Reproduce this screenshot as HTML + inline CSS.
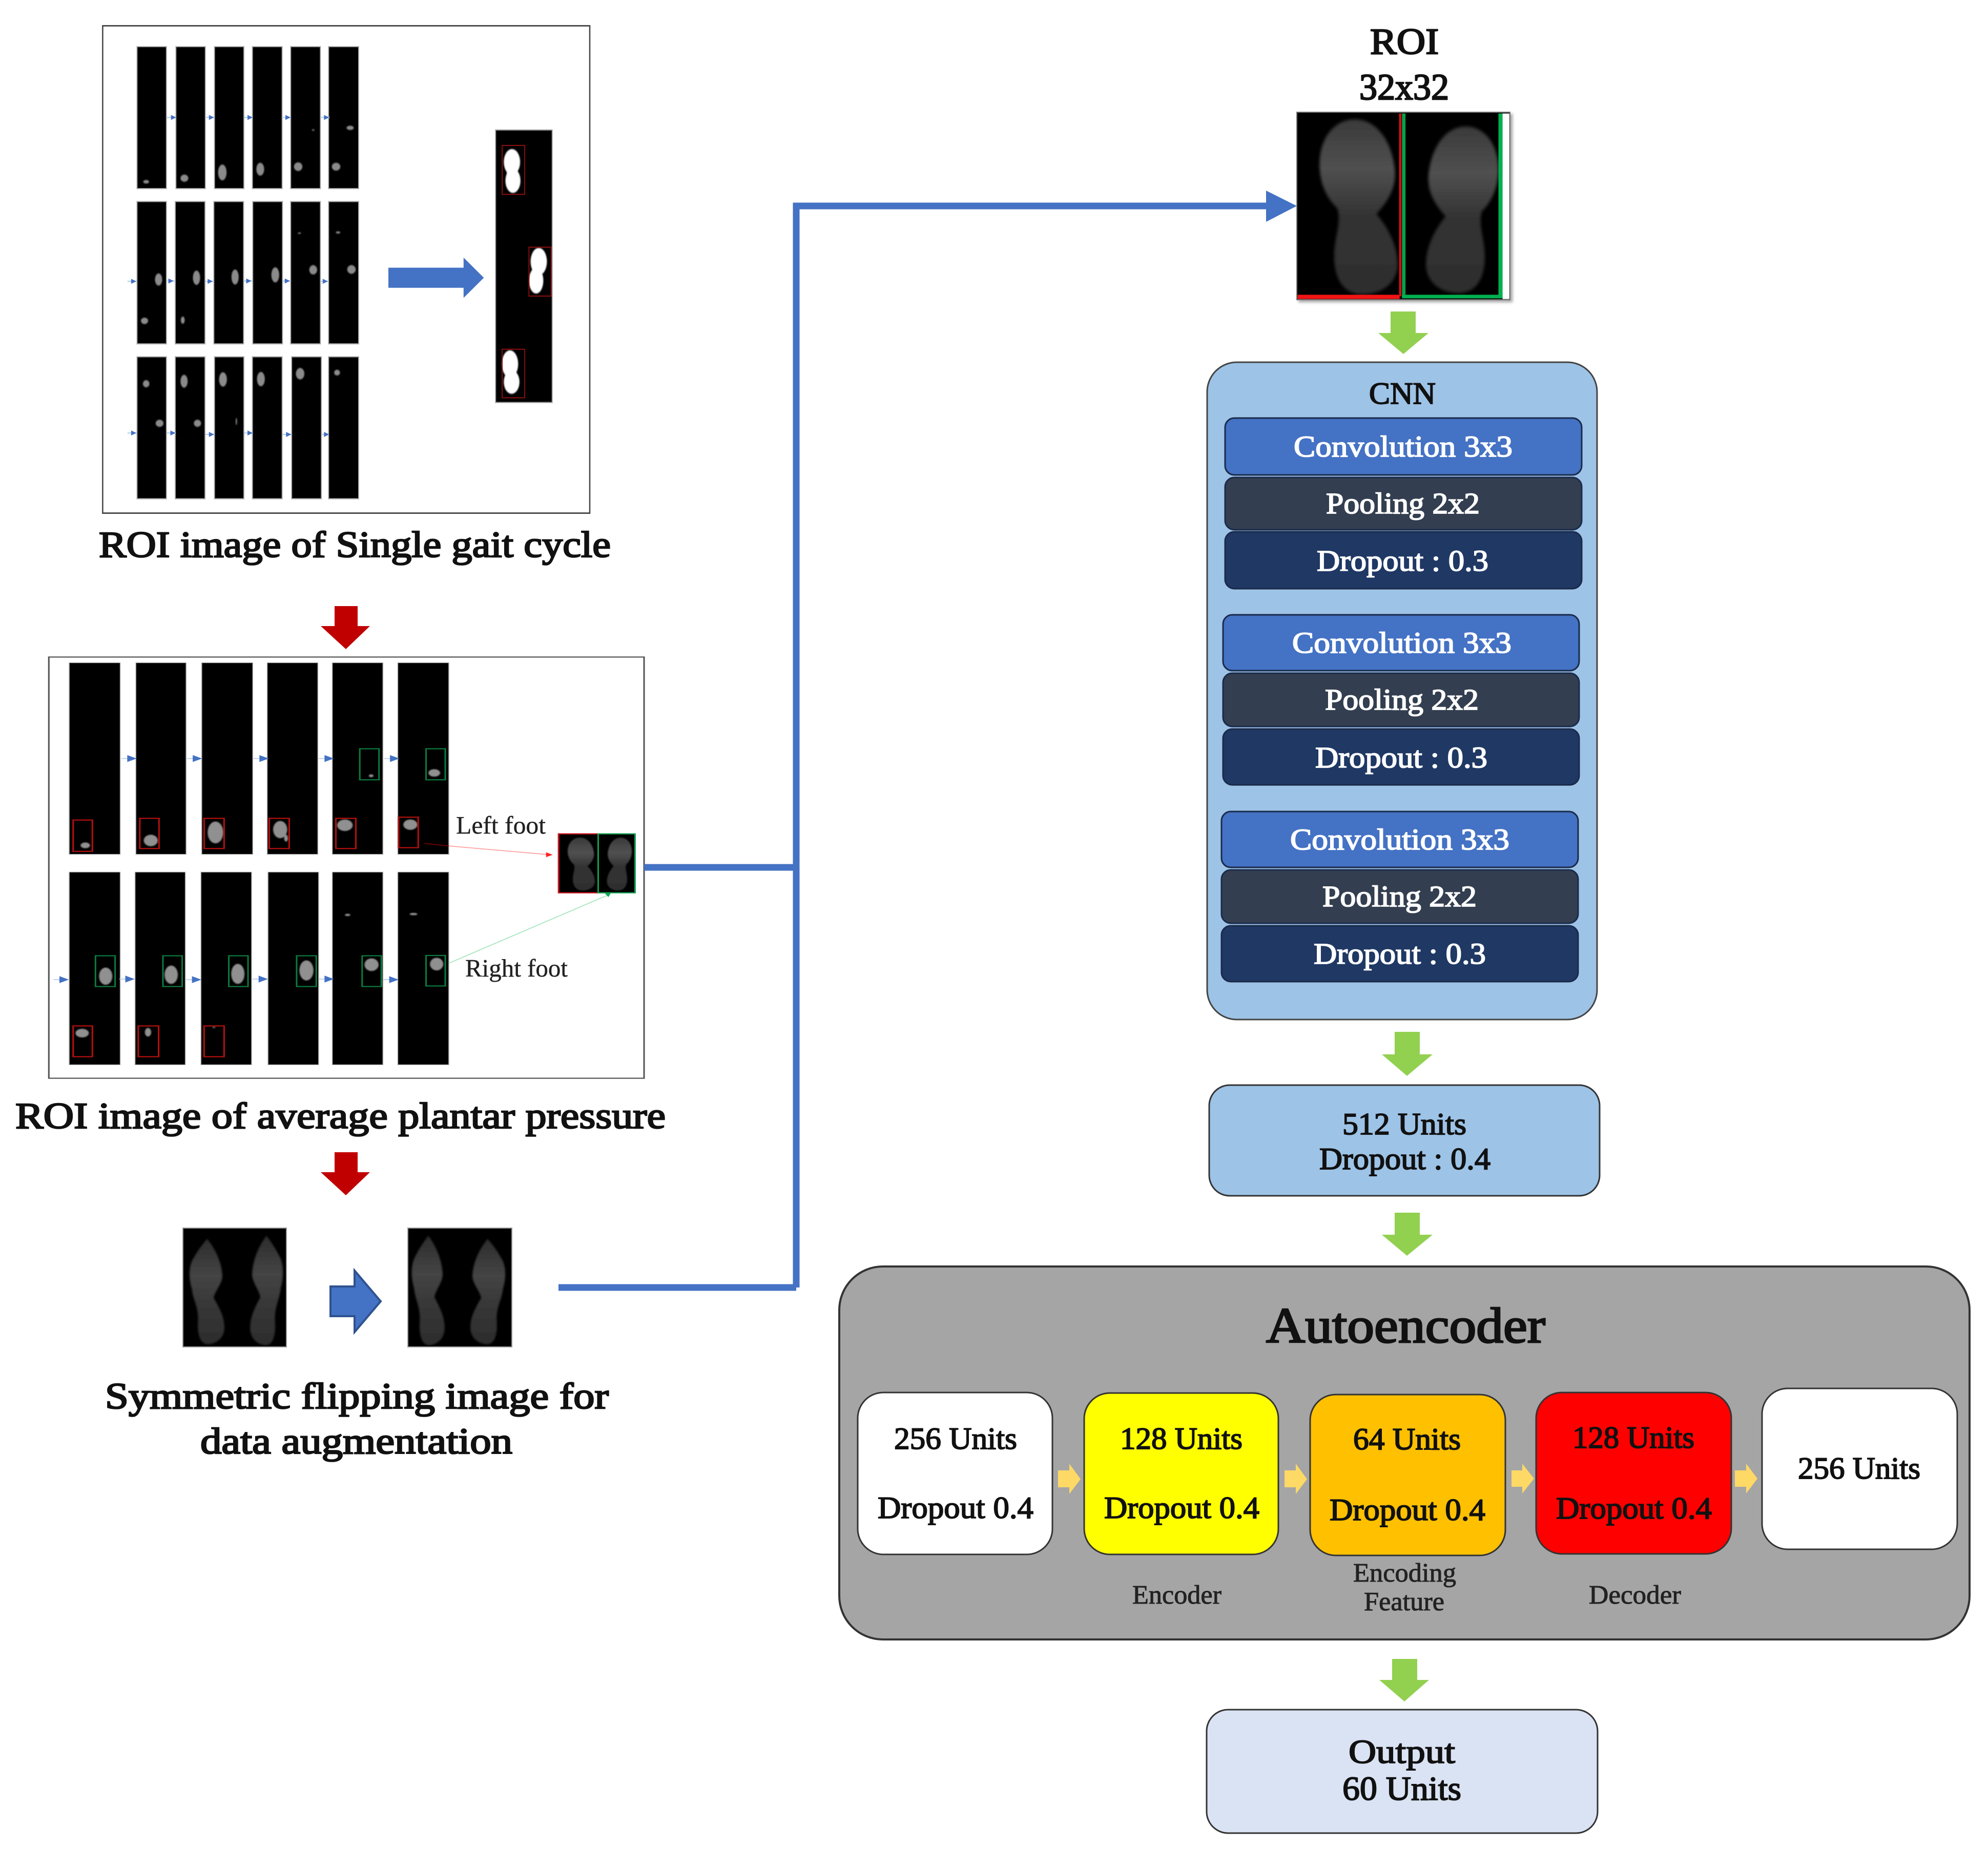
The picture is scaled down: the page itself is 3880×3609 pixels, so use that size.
<!DOCTYPE html>
<html><head><meta charset="utf-8"><style>
html,body{margin:0;padding:0;background:#fff}
svg{display:block}
text{font-family:"Liberation Serif",serif;fill:#111;stroke:#111;stroke-width:2.2px}
.w{fill:#fff;stroke:#fff;font-size:58px;stroke-width:1.8px}
.c{font-size:72px;stroke-width:2.6px}
.u{font-size:60px;stroke-width:1.9px}
.s{font-size:49px;stroke-width:.4px;fill:#222;stroke:#222}
.t{font-size:52px;stroke-width:1px;fill:#222;stroke:#222}
</style></head><body>
<svg xmlns="http://www.w3.org/2000/svg" width="3880" height="3609" viewBox="0 0 3880 3609">
<defs>
<filter id="b" x="-30%" y="-30%" width="160%" height="160%"><feGaussianBlur stdDeviation="1.8"/></filter>
<filter id="b2" x="-30%" y="-30%" width="160%" height="160%"><feGaussianBlur stdDeviation="5"/></filter>
<filter id="sh" x="-5%" y="-5%" width="112%" height="112%"><feDropShadow dx="4" dy="4" stdDeviation="3" flood-color="#000" flood-opacity=".35"/></filter>
<linearGradient id="g" x1="0" y1="0" x2="0" y2="1"><stop offset="0" stop-color="#3a3a3a"/><stop offset=".28" stop-color="#505050"/><stop offset=".55" stop-color="#333"/><stop offset="1" stop-color="#2e2e2e"/></linearGradient>
<linearGradient id="g3" x1="0" y1="0" x2="0" y2="1"><stop offset="0" stop-color="#2c2c2c"/><stop offset=".35" stop-color="#444"/><stop offset=".6" stop-color="#383838"/><stop offset="1" stop-color="#2c2c2c"/></linearGradient>
<path id="f" d="M45 0C72 0 92 25 95 60C96 80 85 95 72 108C85 122 100 145 98 170C95 190 75 200 55 200C30 200 18 180 20 150C22 130 28 118 24 102C8 88 0 68 2 45C5 15 25 0 45 0Z" fill="url(#g)"/>
<path id="n" d="M45 0C60 15 78 40 80 70C80 85 62 100 60 112C72 130 88 150 84 175C80 192 60 200 45 200C28 198 22 180 24 155C26 130 12 115 10 95C2 75 2 50 15 35C25 20 35 10 45 0Z" fill="url(#g3)"/>
</defs>
<rect width="3880" height="3609" fill="#fff"/>

<!-- Panel 1 -->
<g transform="translate(180,30) scale(.638,.7015)">
<rect x="32" y="29" width="1490" height="1356" fill="#fff" stroke="#444" stroke-width="4"/>
<g fill="#000" stroke="#aaa" stroke-width="3">
<rect x="137" y="87" width="90" height="395"/><rect x="256" y="87" width="90" height="395"/><rect x="374" y="87" width="90" height="395"/><rect x="490" y="87" width="91" height="395"/><rect x="607" y="87" width="91" height="395"/><rect x="723" y="87" width="92" height="395"/>
<rect x="137" y="518" width="90" height="396"/><rect x="254" y="518" width="91" height="396"/><rect x="372" y="518" width="91" height="396"/><rect x="491" y="518" width="91" height="396"/><rect x="607" y="518" width="91" height="396"/><rect x="723" y="518" width="92" height="396"/>
<rect x="137" y="950" width="90" height="395"/><rect x="254" y="950" width="91" height="395"/><rect x="374" y="950" width="90" height="395"/><rect x="490" y="950" width="91" height="395"/><rect x="610" y="950" width="91" height="395"/><rect x="723" y="950" width="92" height="395"/>
</g>
<g fill="#8a8a8a" filter="url(#b)">
<ellipse cx="165" cy="463" rx="9" ry="5"/><ellipse cx="282" cy="453" rx="12" ry="10"/><ellipse cx="398" cy="437" rx="13" ry="22"/><ellipse cx="514" cy="428" rx="12" ry="18"/><ellipse cx="630" cy="421" rx="13" ry="12"/><ellipse cx="676" cy="319" rx="4" ry="2"/><ellipse cx="746" cy="421" rx="13" ry="11"/><ellipse cx="789" cy="313" rx="11" ry="6"/>
<ellipse cx="160" cy="850" rx="11" ry="9"/><ellipse cx="203" cy="735" rx="11" ry="17"/><ellipse cx="277" cy="848" rx="6" ry="10"/><ellipse cx="319" cy="730" rx="11" ry="20"/><ellipse cx="437" cy="728" rx="11" ry="21"/><ellipse cx="560" cy="722" rx="12" ry="21"/><ellipse cx="634" cy="606" rx="5" ry="2"/><ellipse cx="676" cy="708" rx="12" ry="13"/><ellipse cx="752" cy="604" rx="7" ry="3"/><ellipse cx="793" cy="707" rx="13" ry="12"/>
<ellipse cx="165" cy="1025" rx="10" ry="10"/><ellipse cx="206" cy="1135" rx="12" ry="10"/><ellipse cx="281" cy="1018" rx="11" ry="18"/><ellipse cx="322" cy="1135" rx="11" ry="10"/><ellipse cx="400" cy="1013" rx="12" ry="20"/><ellipse cx="441" cy="1130" rx="2" ry="10"/><ellipse cx="516" cy="1012" rx="12" ry="20"/><ellipse cx="636" cy="997" rx="13" ry="16"/><ellipse cx="749" cy="994" rx="9" ry="8"/>
</g>
<g stroke="#b9cbea" stroke-width="3"><path d="M228 284h28M346 284h28M465 284h26M581 284h26M698 284h28M108 740h28M230 739h24M346 740h26M464 739h26M582 739h25M700 740h23M108 1162h28M228 1162h28M346 1166h28M465 1162h26M582 1166h26M702 1166h22"/></g>
<g fill="#4472C4"><path d="M241 277l16 7-16 7zM357 277l16 7-16 7zM475 277l16 7-16 7zM591 277l16 7-16 7zM709 277l16 7-16 7zM119 733l16 7-16 7zM233 732l16 7-16 7zM353 733l16 7-16 7zM471 732l16 7-16 7zM589 732l16 7-16 7zM705 733l16 7-16 7zM119 1155l16 7-16 7zM239 1155l16 7-16 7zM357 1159l16 7-16 7zM475 1155l16 7-16 7zM593 1159l16 7-16 7zM709 1159l16 7-16 7z"/></g>
<path d="M906 702H1136V674L1198 730L1136 786V758H906Z" fill="#4472C4"/>
<rect x="1234" y="319" width="173" height="758" fill="#000" stroke="#999" stroke-width="3"/>
<g fill="#fff" filter="url(#b)"><ellipse cx="1284" cy="408" rx="25" ry="36"/><ellipse cx="1287" cy="460" rx="23" ry="34"/><rect x="1268" y="420" width="28" height="40"/><ellipse cx="1366" cy="685" rx="25" ry="38"/><ellipse cx="1358" cy="738" rx="22" ry="36"/><rect x="1347" y="695" width="28" height="40"/><ellipse cx="1278" cy="970" rx="25" ry="38"/><ellipse cx="1283" cy="1020" rx="24" ry="33"/><rect x="1265" y="985" width="28" height="40"/></g>
<g fill="none" stroke="#8a0f0f" stroke-width="3"><rect x="1254" y="362" width="69" height="136"/><rect x="1336" y="645" width="68" height="136"/><rect x="1254" y="929" width="69" height="135"/></g>
</g>
<text class="c" x="193" y="1087" textLength="999" lengthAdjust="spacingAndGlyphs">ROI image of Single gait cycle</text>

<!-- red arrows -->
<path d="M653 1183H698V1222H722L675 1267L626 1222H653Z" fill="#C00000"/>
<path d="M653 2249H698V2288H722L675 2333L626 2288H653Z" fill="#C00000"/>

<!-- Panel 2 -->
<g transform="translate(80,1260) scale(.7653,.5612)">
<rect x="20" y="40" width="1518" height="1465" fill="#fff" stroke="#555" stroke-width="4"/>
<g fill="#000" stroke="#aaa" stroke-width="2">
<rect x="72" y="60" width="130" height="666"/><rect x="242" y="60" width="128" height="666"/><rect x="410" y="60" width="130" height="666"/><rect x="577" y="60" width="129" height="666"/><rect x="743" y="60" width="129" height="666"/><rect x="910" y="60" width="130" height="666"/>
<rect x="72" y="788" width="130" height="670"/><rect x="240" y="788" width="128" height="670"/><rect x="408" y="788" width="129" height="670"/><rect x="579" y="788" width="129" height="670"/><rect x="743" y="788" width="129" height="670"/><rect x="910" y="788" width="130" height="670"/>
</g>
<g fill="#909090" filter="url(#b)">
<ellipse cx="113" cy="695" rx="12" ry="10"/><ellipse cx="280" cy="678" rx="18" ry="20"/><ellipse cx="445" cy="650" rx="20" ry="38"/><ellipse cx="610" cy="640" rx="18" ry="30"/><ellipse cx="625" cy="670" rx="5" ry="12"/><ellipse cx="775" cy="625" rx="20" ry="20"/><ellipse cx="842" cy="453" rx="6" ry="5"/><ellipse cx="942" cy="623" rx="18" ry="18"/><ellipse cx="1003" cy="443" rx="15" ry="13"/>
<ellipse cx="105" cy="1348" rx="17" ry="15"/><ellipse cx="165" cy="1150" rx="17" ry="30"/><ellipse cx="273" cy="1345" rx="8" ry="15"/><ellipse cx="332" cy="1145" rx="17" ry="32"/><ellipse cx="441" cy="1328" rx="4" ry="2"/><ellipse cx="502" cy="1142" rx="17" ry="35"/><ellipse cx="677" cy="1130" rx="18" ry="35"/><ellipse cx="782" cy="937" rx="7" ry="4"/><ellipse cx="843" cy="1110" rx="18" ry="22"/><ellipse cx="950" cy="934" rx="10" ry="4"/><ellipse cx="1009" cy="1108" rx="17" ry="22"/>
</g>
<g fill="none" stroke="#b40f0f" stroke-width="4"><rect x="82" y="607" width="49" height="109"/><rect x="252" y="601" width="49" height="105"/><rect x="416" y="601" width="51" height="105"/><rect x="582" y="601" width="51" height="105"/><rect x="752" y="601" width="51" height="105"/><rect x="912" y="597" width="50" height="106"/><rect x="82" y="1323" width="49" height="107"/><rect x="248" y="1323" width="52" height="107"/><rect x="416" y="1323" width="51" height="107"/></g>
<g fill="none" stroke="#0b7a3e" stroke-width="4"><rect x="813" y="359" width="49" height="108"/><rect x="982" y="359" width="49" height="108"/><rect x="139" y="1079" width="50" height="107"/><rect x="311" y="1079" width="49" height="107"/><rect x="479" y="1079" width="49" height="107"/><rect x="652" y="1079" width="50" height="107"/><rect x="819" y="1079" width="49" height="107"/><rect x="982" y="1078" width="49" height="106"/></g>
<g stroke="#b9cbea" stroke-width="3"><path d="M205 393h30M372 393h30M542 393h30M708 393h30M875 393h30M32 1162h30M200 1160h30M370 1162h30M540 1160h30M708 1160h30M873 1162h30"/></g>
<g fill="#4472C4"><path d="M220 381l24 12-24 12zM387 381l24 12-24 12zM557 381l24 12-24 12zM723 381l24 12-24 12zM890 381l24 12-24 12zM47 1150l24 12-24 12zM215 1148l24 12-24 12zM385 1150l24 12-24 12zM555 1148l24 12-24 12zM723 1148l24 12-24 12zM888 1150l24 12-24 12z"/></g>
<rect x="1320" y="655" width="195" height="205" fill="#000"/>
<g filter="url(#b)"><use href="#f" transform="translate(1342,668) scale(.72,.92)"/><use href="#f" transform="translate(1508,668) scale(-.66,.92)"/></g>
<rect x="1320" y="655" width="101" height="205" fill="none" stroke="#c8141e" stroke-width="4"/>
<rect x="1421" y="655" width="94" height="205" fill="none" stroke="#10a050" stroke-width="4"/>
<path d="M978 688L1040 697" stroke="#700" stroke-width="3"/><path d="M1040 697L1293 727" stroke="#ff9a9a" stroke-width="3"/>
<path d="M1288 719L1305 728L1288 736Z" fill="#f22"/>
<path d="M1040 1105L1442 870" stroke="#a6e6c0" stroke-width="3"/>
<path d="M1438 862L1453 861L1447 875Z" fill="#0a5"/>
</g>
<text class="s" x="890" y="1627" textLength="175" lengthAdjust="spacingAndGlyphs">Left foot</text>
<text class="s" x="908" y="1906" textLength="200" lengthAdjust="spacingAndGlyphs">Right foot</text>
<text class="c" x="30" y="2202" textLength="1269" lengthAdjust="spacingAndGlyphs">ROI image of average plantar pressure</text>

<!-- Symmetric images -->
<rect x="357" y="2397" width="202" height="232" fill="#000" stroke="#999" stroke-width="2"/>
<rect x="796" y="2397" width="203" height="232" fill="#000" stroke="#999" stroke-width="2"/>
<g filter="url(#b)">
<use href="#n" transform="translate(366,2418) scale(.85,1.03)"/>
<use href="#n" transform="translate(556,2412) scale(-.8,1.07)"/>
<use href="#n" transform="translate(990,2418) scale(-.85,1.03)"/>
<use href="#n" transform="translate(800,2412) scale(.8,1.07)"/>
</g>
<path d="M645 2511H692V2480L743 2540L692 2600V2569H645Z" fill="#4472C4" stroke="#2F528F" stroke-width="4"/>
<text class="c" x="205" y="2749" textLength="983" lengthAdjust="spacingAndGlyphs">Symmetric flipping image for</text>
<text class="c" x="391" y="2837" textLength="609" lengthAdjust="spacingAndGlyphs">data augmentation</text>

<!-- Blue connectors -->
<path d="M1257 1693H1554M1090 2513H1554M1554 2513V402H2480" fill="none" stroke="#4472C4" stroke-width="13"/>
<path d="M2471 372L2531 402L2471 433Z" fill="#4472C4"/>

<!-- ROI -->
<text class="c" x="2674" y="105" textLength="134" lengthAdjust="spacingAndGlyphs">ROI</text>
<text class="c" x="2653" y="194" textLength="175" lengthAdjust="spacingAndGlyphs">32x32</text>
<g filter="url(#sh)"><rect x="2531" y="219" width="416" height="366" fill="#000" stroke="#777" stroke-width="2"/></g>
<g transform="translate(2300,30) scale(.574,.6378)">
<g filter="url(#b2)">
<use href="#f" transform="translate(475,318) scale(2.75,2.68)"/>
<use href="#f" transform="translate(1092,340) scale(-2.55,2.55)"/>
</g>
<rect x="405" y="855" width="347" height="13" fill="#f01414"/>
<rect x="750" y="300" width="8" height="560" fill="#d01010"/>
<rect x="760" y="300" width="12" height="560" fill="#0a9e4c"/>
<rect x="760" y="855" width="342" height="11" fill="#00b050"/>
<rect x="1088" y="300" width="14" height="566" fill="#00b050"/>
<rect x="1102" y="300" width="23" height="568" fill="#fff"/>
</g>

<!-- Green arrows -->
<g fill="#92D050">
<path d="M2714 608H2763V650H2788L2739 691L2690 650H2714Z"/>
<path d="M2722 2014H2771V2058H2796L2746 2100L2697 2058H2722Z"/>
<path d="M2722 2367H2771V2410H2796L2746 2451L2697 2410H2722Z"/>
<path d="M2717 3238H2766V3279H2789L2741 3321L2692 3279H2717Z"/>
</g>

<!-- CNN -->
<rect x="2356" y="707" width="761" height="1283" rx="58" fill="#9DC3E6" stroke="#444" stroke-width="3"/>
<text class="u" x="2672" y="788" textLength="130" lengthAdjust="spacingAndGlyphs">CNN</text>
<g stroke="#1a2a4a" stroke-width="3">
<rect x="2391" y="816" width="696" height="111" rx="18" fill="#4472C4"/>
<rect x="2391" y="932" width="696" height="102" rx="18" fill="#333F50"/>
<rect x="2391" y="1038" width="696" height="111" rx="18" fill="#1F3864"/>
<rect x="2387" y="1200" width="695" height="109" rx="18" fill="#4472C4"/>
<rect x="2387" y="1314" width="695" height="104" rx="18" fill="#333F50"/>
<rect x="2387" y="1423" width="695" height="109" rx="18" fill="#1F3864"/>
<rect x="2384" y="1584" width="696" height="109" rx="18" fill="#4472C4"/>
<rect x="2384" y="1698" width="696" height="104" rx="18" fill="#333F50"/>
<rect x="2384" y="1807" width="696" height="109" rx="18" fill="#1F3864"/>
</g>
<text class="w" x="2525" y="891" textLength="427" lengthAdjust="spacingAndGlyphs">Convolution 3x3</text>
<text class="w" x="2588" y="1002" textLength="300" lengthAdjust="spacingAndGlyphs">Pooling 2x2</text>
<text class="w" x="2570" y="1114" textLength="335" lengthAdjust="spacingAndGlyphs">Dropout : 0.3</text>
<text class="w" x="2522" y="1274" textLength="428" lengthAdjust="spacingAndGlyphs">Convolution 3x3</text>
<text class="w" x="2586" y="1385" textLength="300" lengthAdjust="spacingAndGlyphs">Pooling 2x2</text>
<text class="w" x="2567" y="1498" textLength="336" lengthAdjust="spacingAndGlyphs">Dropout : 0.3</text>
<text class="w" x="2518" y="1658" textLength="428" lengthAdjust="spacingAndGlyphs">Convolution 3x3</text>
<text class="w" x="2581" y="1769" textLength="301" lengthAdjust="spacingAndGlyphs">Pooling 2x2</text>
<text class="w" x="2564" y="1881" textLength="336" lengthAdjust="spacingAndGlyphs">Dropout : 0.3</text>

<!-- 512 -->
<rect x="2360" y="2118" width="762" height="216" rx="40" fill="#9DC3E6" stroke="#333" stroke-width="3"/>
<text class="u" x="2620" y="2214" textLength="242" lengthAdjust="spacingAndGlyphs">512 Units</text>
<text class="u" x="2575" y="2282" textLength="334" lengthAdjust="spacingAndGlyphs">Dropout : 0.4</text>

<!-- Autoencoder -->
<rect x="1638" y="2472" width="2206" height="728" rx="85" fill="#A5A5A5" stroke="#333" stroke-width="4"/>
<text x="2471" y="2620" textLength="545" lengthAdjust="spacingAndGlyphs" style="font-size:98px;stroke-width:3px">Autoencoder</text>
<g stroke="#333" stroke-width="3">
<rect x="1674" y="2718" width="380" height="316" rx="50" fill="#fff"/>
<rect x="2116" y="2719" width="379" height="315" rx="50" fill="#FFFF00"/>
<rect x="2557" y="2722" width="381" height="314" rx="50" fill="#FFC000"/>
<rect x="2998" y="2718" width="381" height="315" rx="50" fill="#FF0000"/>
<rect x="3439" y="2710" width="381" height="314" rx="50" fill="#fff"/>
</g>
<g fill="#FFD966">
<path d="M2065 2870H2087V2857L2109 2887L2087 2916V2903H2065Z"/>
<path d="M2507 2870H2529V2857L2551 2887L2529 2916V2903H2507Z"/>
<path d="M2950 2870H2971V2857L2994 2886L2971 2915V2902H2950Z"/>
<path d="M3386 2870H3408V2857L3430 2886L3408 2915V2902H3386Z"/>
</g>
<text class="u" x="1745" y="2828" textLength="240" lengthAdjust="spacingAndGlyphs">256 Units</text>
<text class="u" x="1713" y="2963" textLength="304" lengthAdjust="spacingAndGlyphs">Dropout 0.4</text>
<text class="u" x="2186" y="2828" textLength="239" lengthAdjust="spacingAndGlyphs">128 Units</text>
<text class="u" x="2155" y="2963" textLength="303" lengthAdjust="spacingAndGlyphs">Dropout 0.4</text>
<text class="u" x="2641" y="2829" textLength="210" lengthAdjust="spacingAndGlyphs">64 Units</text>
<text class="u" x="2595" y="2967" textLength="304" lengthAdjust="spacingAndGlyphs">Dropout 0.4</text>
<text class="u" x="3069" y="2826" textLength="238" lengthAdjust="spacingAndGlyphs">128 Units</text>
<text class="u" x="3037" y="2964" textLength="304" lengthAdjust="spacingAndGlyphs">Dropout 0.4</text>
<text class="u" x="3509" y="2886" textLength="239" lengthAdjust="spacingAndGlyphs">256 Units</text>
<text class="t" x="2210" y="3130" textLength="174" lengthAdjust="spacingAndGlyphs">Encoder</text>
<text class="t" x="2641" y="3087" textLength="201" lengthAdjust="spacingAndGlyphs">Encoding</text>
<text class="t" x="2662" y="3143" textLength="157" lengthAdjust="spacingAndGlyphs">Feature</text>
<text class="t" x="3101" y="3130" textLength="180" lengthAdjust="spacingAndGlyphs">Decoder</text>

<!-- Output -->
<rect x="2355" y="3337" width="763" height="241" rx="42" fill="#DAE3F3" stroke="#333" stroke-width="3"/>
<text class="u" x="2632" y="3441" textLength="208" lengthAdjust="spacingAndGlyphs" style="font-size:66px;stroke-width:2px">Output</text>
<text class="u" x="2620" y="3513" textLength="232" lengthAdjust="spacingAndGlyphs" style="font-size:66px;stroke-width:2px">60 Units</text>
</svg>
</body></html>
